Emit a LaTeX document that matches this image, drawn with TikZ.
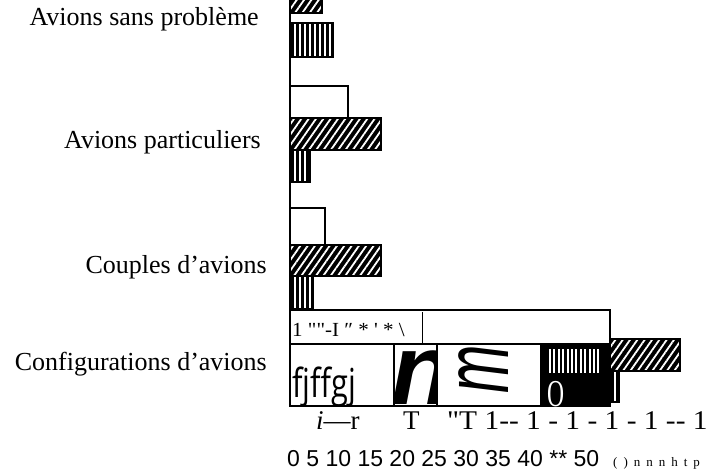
\documentclass[tikz,border=0pt]{standalone}
\usepackage{fontspec}
\setmainfont{Liberation Serif}
\setsansfont{Liberation Sans}
\newfontfamily\opensans{Open Sans}
\usepackage{tikz}
\usetikzlibrary{patterns.meta,positioning}

\tikzset{
  hatchbar/.style={preaction={fill=black}, pattern={Lines[angle=55,distance=6pt,line width=1.8pt]}, pattern color=white, draw=black, line width=1.5pt},
  stripebar/.style={preaction={fill=black}, pattern={Lines[angle=90,distance=5pt,line width=2.2pt]}, pattern color=white, draw=black, line width=2pt},
  blankbar/.style={draw=black, line width=2.5pt, fill=white},
  catlabel/.style={anchor=base east, inner sep=0pt, font=\fontsize{26}{30}\selectfont},
  cell/.style={draw=black, line width=2pt},
  scan/.style={anchor=base west, inner sep=0pt},
}

\begin{document}
\begin{tikzpicture}[x=1pt,y=-1pt]
            \useasboundingbox (0,0) rectangle (709,476);
            \coordinate (Origin) at (290,310);
            % categories
            \node[catlabel] (sansprob) at (259,26) {Avions sans problème};
            \node[catlabel] (partic) at (261,148) {Avions particuliers};
            \node[catlabel] (couples) at (267,273) {Couples d’avions};
            \node[catlabel] (config) at (267,370) {Configurations d’avions};
            % bars
            \draw[hatchbar] (290,-3) rectangle (322,13);
            \draw[stripebar] (290,23) rectangle (333,57);
            \draw[blankbar] (290,86) rectangle (348,118);
            \draw[hatchbar] (290,118) rectangle (381,150);
            \draw[stripebar] (290,150) rectangle (310,182);
            \draw[blankbar] (290,208) rectangle (325,245);
            \draw[hatchbar] (290,245) rectangle (381,276);
            \draw[stripebar] (290,276) rectangle (313,309);
            \draw[hatchbar] (610,339) rectangle (680,371);
            \draw[stripebar] (611,371) rectangle (619,402);
            \draw[line width=2.5pt] (Origin) -- (290,0);
            % box
            \fill[black] (540,343) rectangle (610,407);
            \draw[cell] (290,310) rectangle (610,406);
            \draw[cell] (290,344) -- (610,344);
            \draw[cell] (394,344) -- (394,406);
            \draw[cell] (437,344) -- (437,406);
            \foreach \x in {550,554.4,...,599} \draw[white,line width=2pt] (\x,349) -- (\x,373);
            \node[scan,font=\fontsize{20}{22}\selectfont] (band) at (292,336) {\scalebox{1.05}[1]{1 \textquotedbl\textquotedbl-I ″ * \textquotesingle{} * \textbackslash}};
            \draw[line width=1pt] (422,312) -- (422,343);
            \node[scan] (fj) at (292,397) {\opensans\fontsize{40}{40}\selectfont\scalebox{0.77}[1]{fjffgj}};
            \begin{scope}
              \clip (395,345) rectangle (436,405);
              \node[scan,font=\sffamily\bfseries\itshape\fontsize{100}{100}\selectfont] (bign) at (391,404) {n};
            \end{scope}
            \begin{scope}
              \clip (438,345) rectangle (539,405);
              \node[inner sep=0pt,rotate=90,font=\sffamily\itshape\fontsize{58}{58}\selectfont] (rotm) at (484,369) {\scalebox{1}[1.6]{m}};
            \end{scope}
            \begin{scope}
              \clip (540,343) rectangle (610,407);
              \node[scan,white,font=\fontsize{38}{38}\selectfont] (oh) at (547,406) {\scalebox{0.62}[1]{O}};
            \end{scope}
            % ticks as scanned
            \node[scan,font=\fontsize{27}{30}\selectfont] (ir) at (316,429) {\textit{i}—r};
            \node[scan,font=\fontsize{27}{30}\selectfont] (tee) at (403,429) {T};
            \node[scan,font=\fontsize{27}{30}\selectfont] (ones) at (447,429) {\scalebox{1.09}[1]{\textquotedbl T 1-{}- 1 - 1 - 1 - 1 -{}- 1}};
            \node[scan,font=\sffamily\fontsize{23}{26}\selectfont] (scale) at (287,466) {0 5 10 15 20 25 30 35 40 ** 50};
            \node[scan,font=\fontsize{13}{15}\selectfont] (tail) at (613,466) {(\kern6pt)\kern6pt n\kern6pt n\kern6pt n\kern6pt h\kern6pt t\kern6pt p};
        \end{tikzpicture}
\end{document}
